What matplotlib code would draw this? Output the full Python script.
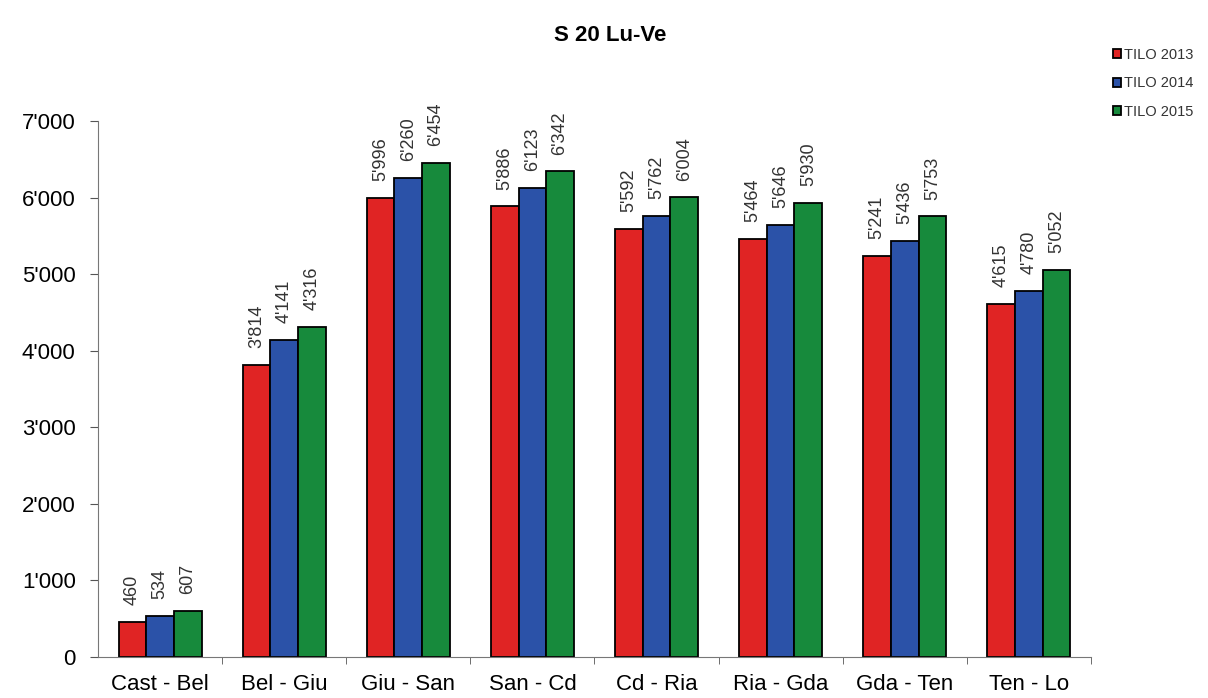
import numpy as np
import matplotlib.pyplot as plt

plt.rcParams['font.family'] = ['Liberation Sans', 'DejaVu Sans']

segments = ["Cast - Bel", "Bel - Giu", "Giu - San", "San - Cd", "Cd - Ria", "Ria - Gda", "Gda - Ten", "Ten - Lo"]
tilo_2013 = [460, 3814, 5996, 5886, 5592, 5464, 5241, 4615]
tilo_2014 = [534, 4141, 6260, 6123, 5762, 5646, 5436, 4780]
tilo_2015 = [607, 4316, 6454, 6342, 6004, 5930, 5753, 5052]
series = [("TILO 2013", tilo_2013, "#e02424"),
          ("TILO 2014", tilo_2014, "#2b52a8"),
          ("TILO 2015", tilo_2015, "#178a3c")]


def fmt(v):
    return f"{v:,}".replace(",", "'")


fig = plt.figure(figsize=(12.08, 6.98), dpi=100)
ax = fig.add_axes([0.0811, 0.0587, 0.822, 0.768])

x = np.arange(len(segments))
w = 0.223
for i, (name, vals, col) in enumerate(series):
    pos = x + (i - 1) * w
    ax.bar(pos, vals, w, color=col, edgecolor="black", linewidth=1.3, label=name)
    for p, v in zip(pos, vals):
        ax.annotate(fmt(v), (p, v), xytext=(0, 12), textcoords="offset points",
                    rotation=90, ha="center", va="bottom", fontsize=13, color="#333333")

ax.set_xlim(-0.5, len(segments) - 0.5)
ax.set_ylim(0, 7000)
ax.set_yticks(range(0, 7001, 1000))
ax.set_yticklabels([fmt(v) for v in range(0, 7001, 1000)], fontsize=16)
ax.set_xticks(x)
ax.set_xticklabels(segments, fontsize=16)
ax.tick_params(axis="x", length=0, pad=12)
ax.set_xticks(np.arange(0.5, len(segments)), minor=True)
ax.tick_params(axis="x", which="minor", length=5, direction="out", color="#555555")
ax.tick_params(axis="y", length=6, direction="out", color="#555555", pad=10)
for s in ["top", "right"]:
    ax.spines[s].set_visible(False)
ax.spines["left"].set_color("#777777")
ax.spines["bottom"].set_color("#777777")

fig.text(0.505, 0.949, "S 20 Lu-Ve", ha="center", va="center", fontsize=16, fontweight="bold")
fig.legend(loc="upper left", bbox_to_anchor=(0.915, 0.942), frameon=False, fontsize=10.5,
           handlelength=0.6, handleheight=0.6, handletextpad=0.15, labelspacing=1.0,
           borderpad=0, labelcolor="#333333")

plt.savefig("out.png", dpi=100)
